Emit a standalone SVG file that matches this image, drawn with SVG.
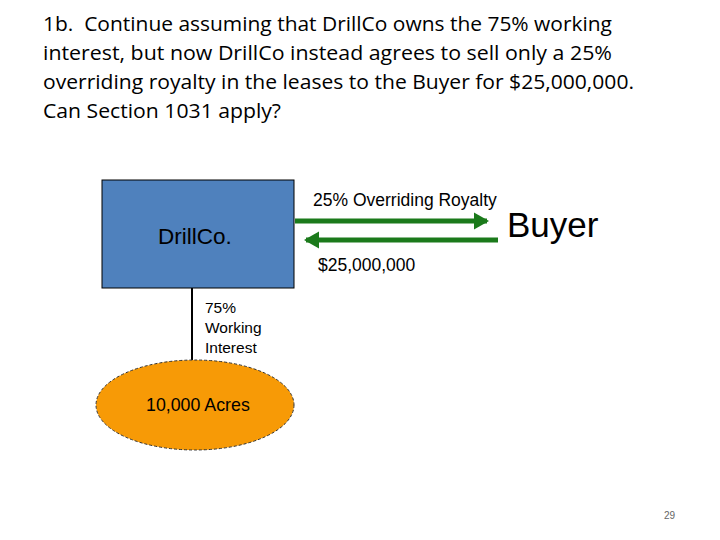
<svg xmlns="http://www.w3.org/2000/svg" width="720" height="540" viewBox="0 0 720 540">
<defs>
<style>
.title{font-family:"Open Sans","Noto Sans",sans-serif;font-size:20px;fill:#000}
.lbl{font-family:"Liberation Sans",Arial,sans-serif;fill:#000}
.conn{stroke:#1B7A1B;stroke-width:5;fill:none}
</style>
<marker id="ah" markerWidth="4" markerHeight="4" refX="2.6" refY="2" orient="auto" markerUnits="strokeWidth" viewBox="0 0 4 4">
<path d="M0,0.3 L3,2 L0,3.7 Z" fill="#1B7A1B"/>
</marker>
</defs>
<rect width="720" height="540" fill="#fff"/>
<text class="title" x="43" y="31" textLength="569" lengthAdjust="spacingAndGlyphs">1b.&#160; Continue assuming that DrillCo owns the 75% working</text>
<text class="title" x="43" y="60" textLength="569" lengthAdjust="spacingAndGlyphs">interest, but now DrillCo instead agrees to sell only a 25%</text>
<text class="title" x="43" y="89" textLength="591" lengthAdjust="spacingAndGlyphs">overriding royalty in the leases to the Buyer for $25,000,000.</text>
<text class="title" x="43" y="118" textLength="238" lengthAdjust="spacingAndGlyphs">Can Section 1031 apply?</text>
<g id="connectors">
<line x1="192" y1="288" x2="192" y2="360" stroke="#000" stroke-width="2"/>
<line class="conn" x1="295" y1="221" x2="487" y2="221" marker-end="url(#ah)"/>
<line class="conn" x1="498" y1="240" x2="306" y2="240" marker-end="url(#ah)"/>
<text class="lbl" x="313" y="206" font-size="17.5">25% Overriding Royalty</text>
<text class="lbl" x="318" y="271" font-size="17.5">$25,000,000</text>
<text class="lbl" x="205" y="313" font-size="15.5">75%</text>
<text class="lbl" x="205" y="333" font-size="15.5">Working</text>
<text class="lbl" x="205" y="353" font-size="15.5">Interest</text>
</g>
<g id="drillco">
<rect x="102" y="180" width="192" height="108" fill="#4F81BD" stroke="#000" stroke-width="1"/>
<text class="lbl" x="158" y="244" font-size="22.5" fill="#0E1A33">DrillCo.</text>
</g>
<g id="buyer">
<text class="lbl" x="507" y="237" font-size="35">Buyer</text>
</g>
<g id="acres">
<ellipse cx="195" cy="405" rx="99" ry="45" fill="#F79A06" stroke="#333" stroke-width="1" stroke-dasharray="3,2"/>
<text class="lbl" x="146" y="411" font-size="17.8">10,000 Acres</text>
</g>
<text x="664" y="519" font-family="Liberation Sans,Arial,sans-serif" font-size="10" fill="#666">29</text>
</svg>
